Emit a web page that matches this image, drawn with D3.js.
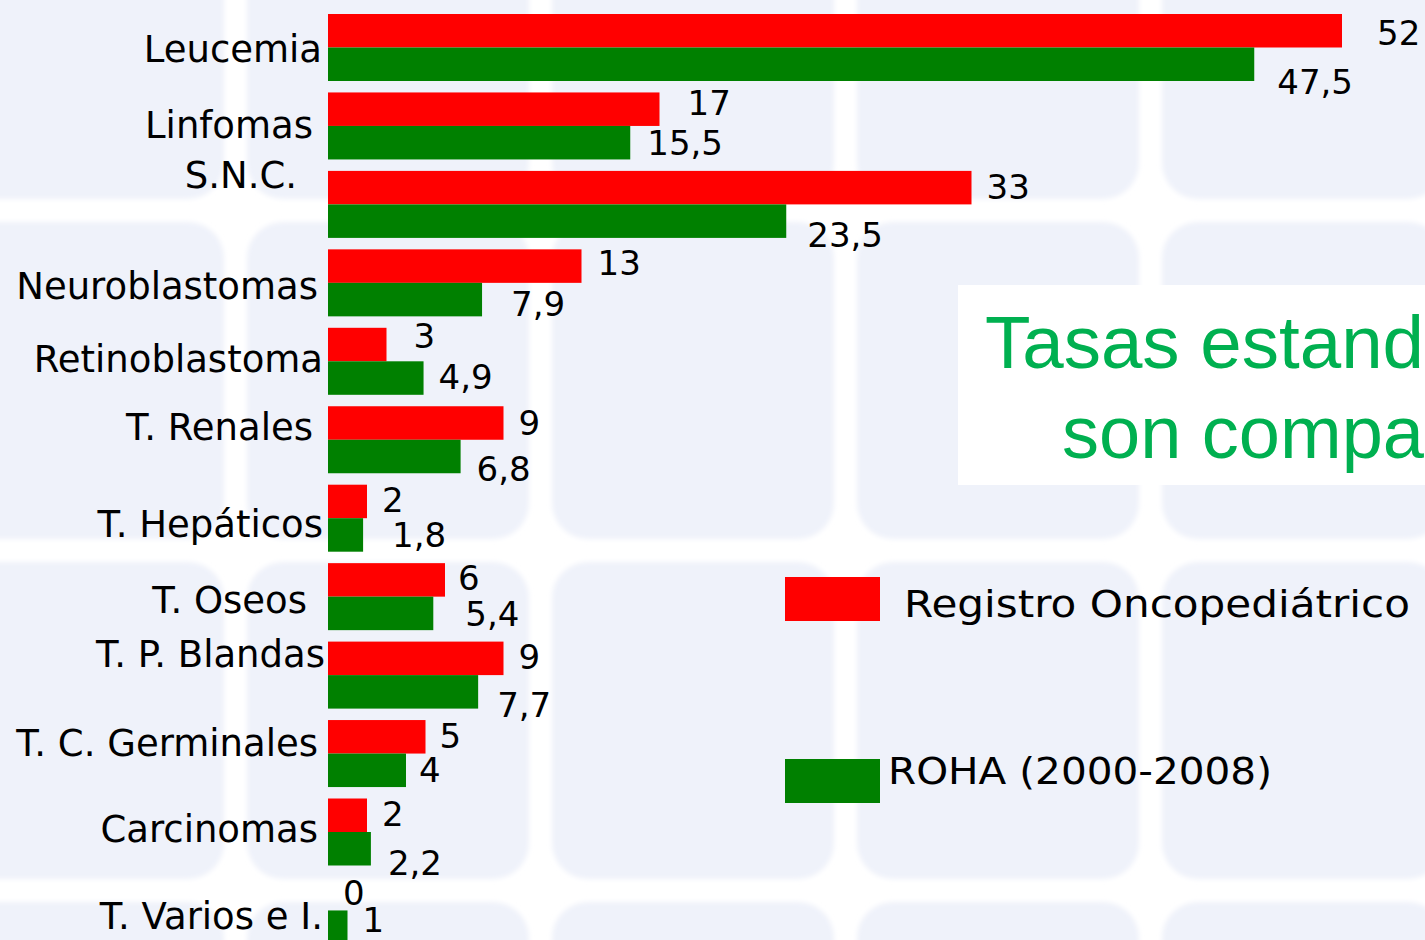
<!DOCTYPE html>
<html>
<head>
<meta charset="utf-8">
<script src="https://cdn.jsdelivr.net/npm/d3@7"></script>
<style>
  html, body { margin: 0; padding: 0; background: #ffffff; overflow: hidden; }
  svg { display: block; }
</style>
</head>
<body>
<svg id="chart" width="1425" height="940"></svg>
<script>
// Childhood cancer rates by diagnostic group
const categories = ["Leucemia", "Linfomas", "S.N.C.", "Neuroblastomas", "Retinoblastoma",
  "T. Renales", "T. Hepáticos", "T. Oseos", "T. P. Blandas", "T. C. Germinales",
  "Carcinomas", "T. Varios e I."];
const registro = [52, 17, 33, 13, 3, 9, 2, 6, 9, 5, 2, 0];
const roha = [47.5, 15.5, 23.5, 7.9, 4.9, 6.8, 1.8, 5.4, 7.7, 4, 2.2, 1];
const seriesNames = ["Registro Oncopediátrico", "ROHA (2000-2008)"];
const seriesColors = ["#ff0000", "#008000"];
const titleLines = ["Tasas estand", "son compa"];

// Hand-placed label nudges (pixels) relative to default placement
const catLabelRight = [322, 313, 297, 318, 323, 313, 323, 307, 325, 318, 318, 323];
const catLabelBase  = [48, 45.5, 17, 50, 44, 34, 52, 50, 25, 36, 43, 52];
const valNudgeR = [[20, 3], [13, -5], [0, 0], [1, -2], [12, -8], [0, 1], [0, -1], [-2, -1], [0, -1], [-1, 0], [0, -1], [0, 0]];
const valNudgeG = [[8, 18], [2, 1], [6, 15], [14, 5], [0, 0], [1, 13], [14, 1], [17, 1], [4, 14], [-2, 0], [2, 15], [0, -6]];

const svg = d3.select("#chart");
const W = 1425, H = 940;

// Soft edges for the tiled backdrop
svg.append("defs").append("filter").attr("id", "soft")
  .attr("x", "-5%").attr("y", "-5%").attr("width", "110%").attr("height", "110%")
  .append("feGaussianBlur").attr("stdDeviation", 2.5);

// Tiled background
const bg = svg.append("g").attr("filter", "url(#soft)");
const colStarts = d3.range(-58, W, 305);
const rowStarts = d3.range(-118, H, 340);
rowStarts.forEach(y0 => colStarts.forEach(x0 => {
  bg.append("rect")
    .attr("x", x0).attr("y", y0)
    .attr("width", 282).attr("height", 317)
    .attr("rx", 36).attr("ry", 36)
    .attr("fill", "#eff2fa");
}));

// Scales
const x = d3.scaleLinear().domain([0, 52]).range([328, 1342]);
const y = d3.scaleBand().domain(categories).range([14, 14 + 12 * 78.45]).padding(0);
const sub = d3.scaleBand().domain([0, 1]).range([0, 67]).padding(0);

const rows = categories.map((c, i) => ({ c, i, vals: [registro[i], roha[i]] }));

const g = svg.append("g");
const grp = g.selectAll("g.cat").data(rows).join("g")
  .attr("class", "cat")
  .attr("transform", d => `translate(0,${y(d.c)})`);

grp.selectAll("rect.bar").data(d => d.vals.map((v, k) => ({ v, k, i: d.i }))).join("rect")
  .attr("class", "bar")
  .attr("x", x(0))
  .attr("y", d => sub(d.k))
  .attr("width", d => x(d.v) - x(0))
  .attr("height", sub.bandwidth())
  .attr("fill", d => seriesColors[d.k]);

const fmt = v => String(v).replace(".", ",");

grp.selectAll("text.val").data(d => d.vals.map((v, k) => ({ v, k, i: d.i }))).join("text")
  .attr("class", "val")
  .attr("x", d => x(d.v) + 15 + (d.k === 0 ? valNudgeR : valNudgeG)[d.i][0])
  .attr("y", d => sub(d.k) + 28 + (d.k === 0 ? valNudgeR : valNudgeG)[d.i][1])
  .attr("font-family", "DejaVu Sans, Verdana, sans-serif")
  .attr("font-size", 34)
  .attr("fill", "#000")
  .text(d => fmt(d.v));

// Category labels
grp.append("text")
  .attr("x", d => catLabelRight[d.i])
  .attr("y", d => catLabelBase[d.i])
  .attr("text-anchor", "end")
  .attr("font-family", "DejaVu Sans, Verdana, sans-serif")
  .attr("font-size", 37)
  .attr("fill", "#000")
  .text(d => d.c);

// Title box
svg.append("rect")
  .attr("x", 958).attr("y", 285).attr("width", 600).attr("height", 200)
  .attr("fill", "#ffffff");
svg.append("g").selectAll("text").data(titleLines).join("text")
  .attr("x", (d, i) => i === 0 ? 985 : 1062)
  .attr("y", (d, i) => 368 + i * 90)
  .attr("font-family", "Liberation Sans, Arial, sans-serif")
  .attr("font-size", (d, i) => i === 0 ? 74.5 : 74)
  .attr("fill", "#00b050")
  .text(d => d);

// Legend
const legend = svg.append("g");
const legendY = [577, 759];
const legendTextX = [904, 888];
const legendTextLen = [506, 384];
seriesNames.forEach((name, k) => {
  legend.append("rect")
    .attr("x", 785).attr("y", legendY[k])
    .attr("width", 95).attr("height", 44)
    .attr("fill", seriesColors[k]);
  legend.append("text")
    .attr("x", legendTextX[k])
    .attr("y", legendY[k] + (k === 0 ? 40 : 25))
    .attr("font-family", "DejaVu Sans, Verdana, sans-serif")
    .attr("font-size", 38)
    .attr("textLength", legendTextLen[k])
    .attr("lengthAdjust", "spacingAndGlyphs")
    .attr("fill", "#000")
    .text(name);
});
</script>
</body>
</html>
